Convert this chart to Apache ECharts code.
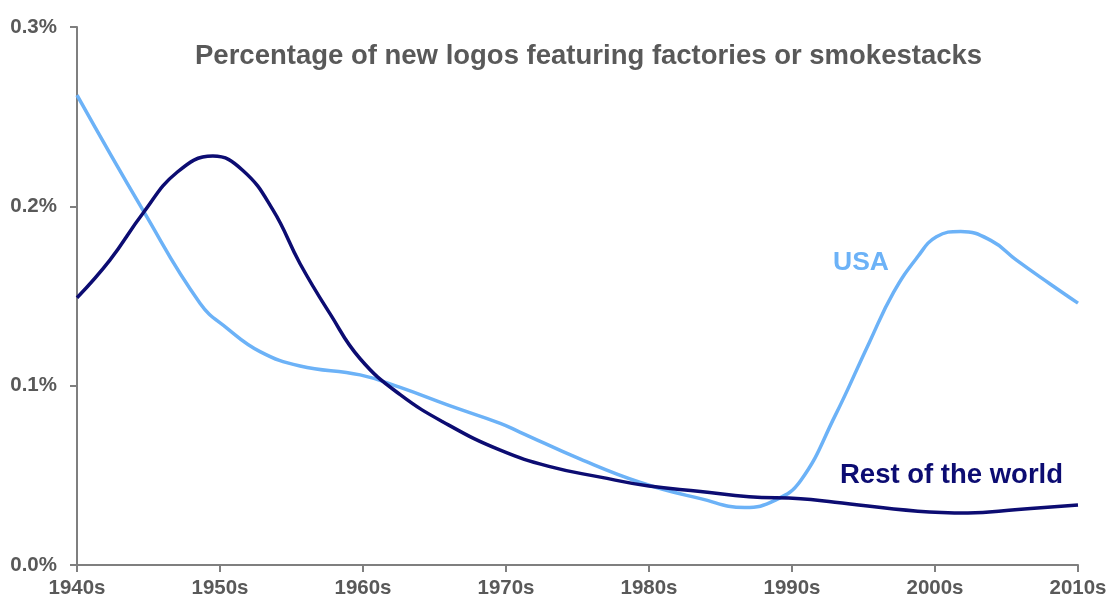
<!DOCTYPE html>
<html>
<head>
<meta charset="utf-8">
<script src="https://cdn.jsdelivr.net/npm/echarts@6/dist/echarts.min.js"></script>
<style>html,body{margin:0;padding:0;background:#fff}#c{width:1112px;height:601px}</style>
</head>
<body>
<div id="c"></div>
<script>
const xTickLabels = ['1940s','1950s','1960s','1970s','1980s','1990s','2000s','2010s'];
const yTickLabels = ['0.0%','0.1%','0.2%','0.3%'];
const usaYears = [1940,1944.6,1948.6,1950.5,1952.8,1955.6,1959.8,1962.6,1966,1969.6,1971,1975.2,1979.4,1983.6,1986.7,1988.8,1990.6,1993,1995.4,1997.1,1998.8,2000.1,2001.8,2003.9,2005.7,2008,2010];
const usaValues = [0.262,0.198,0.146,0.132,0.119,0.111,0.106,0.099,0.089,0.079,0.074,0.059,0.046,0.037,0.032,0.036,0.047,0.083,0.124,0.152,0.172,0.183,0.186,0.181,0.170,0.157,0.146];
const rowYears = [1940,1942.3,1944.6,1947,1949.5,1951.6,1953.7,1955.6,1957.7,1959.8,1962.6,1966,1969.6,1973,1976.6,1980,1983.6,1987,1990.6,1993,1998.8,2002.3,2005.8,2010];
const rowValues = [0.149,0.170,0.196,0.219,0.228,0.220,0.198,0.168,0.140,0.115,0.095,0.078,0.064,0.055,0.049,0.044,0.041,0.038,0.037,0.035,0.030,0.029,0.031,0.0335];

const chart = echarts.init(document.getElementById('c'));
const gray = '#7f7f7f';
const txt = '#595959';
const font = 'Liberation Sans, Arial, sans-serif';
chart.setOption({
  animation: false,
  title: {
    text: 'Percentage of new logos featuring factories or smokestacks',
    left: 190, top: 37,
    textStyle: {fontFamily: font, fontWeight: 'bold', fontSize: 27.5, color: txt}
  },
  grid: {left: 77, right: 34, top: 27, bottom: 36, containLabel: false},
  xAxis: {
    type: 'value', min: 1940, max: 2010, interval: 10,
    axisLine: {show: true, lineStyle: {color: gray, width: 2}},
    axisTick: {show: true, length: 7, lineStyle: {color: gray, width: 2}},
    splitLine: {show: false},
    axisLabel: {
      formatter: v => xTickLabels[Math.round((v - 1940) / 10)],
      fontFamily: font, fontWeight: 'bold', fontSize: 20.5, color: txt, margin: 13
    }
  },
  yAxis: {
    type: 'value', min: 0, max: 0.3, interval: 0.1,
    axisLine: {show: true, lineStyle: {color: gray, width: 2}},
    axisTick: {show: true, length: 7, lineStyle: {color: gray, width: 2}},
    splitLine: {show: false},
    axisLabel: {
      formatter: v => yTickLabels[Math.round(v * 10)],
      fontFamily: font, fontWeight: 'bold', fontSize: 20.5, color: txt, margin: 20
    }
  },
  series: [
    {name: 'USA', type: 'line', smooth: 0.45, symbol: 'none',
     lineStyle: {color: '#6cb2f7', width: 3.5},
     data: usaYears.map((y, i) => [y, usaValues[i]])},
    {name: 'Rest of the world', type: 'line', smooth: 0.45, symbol: 'none',
     lineStyle: {color: '#0c0c72', width: 3.5},
     data: rowYears.map((y, i) => [y, rowValues[i]])}
  ],
  graphic: [
    {type: 'text', left: 833, top: 249, style: {text: 'USA', fontFamily: font, fontWeight: 'bold', fontSize: 26.5, fill: '#6cb2f7'}},
    {type: 'text', left: 840, top: 461, style: {text: 'Rest of the world', fontFamily: font, fontWeight: 'bold', fontSize: 27.5, fill: '#0c0c72'}}
  ]
});
</script>
</body>
</html>
